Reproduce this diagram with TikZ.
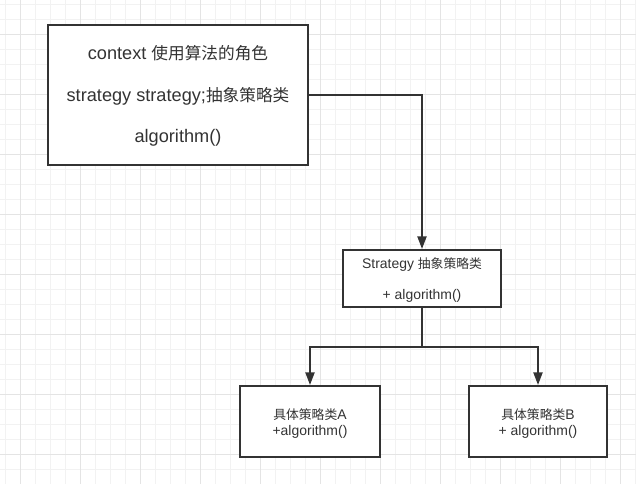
\documentclass[tikz,border=0pt]{standalone}
\usepackage{fontspec}
\setmainfont{Noto Sans CJK SC}
\newfontfamily\lat[Scale=1.09]{Liberation Sans}
\newcommand{\latx}[1]{{\lat #1}}
\usetikzlibrary{arrows.meta}
\definecolor{ink}{HTML}{333333}
\definecolor{gminor}{HTML}{F2F2F2}
\definecolor{gmajor}{HTML}{E4E4E4}
\tikzset{
  box/.style={draw=ink, line width=1.5pt, fill=white, inner sep=0pt},
  txtbig/.style={text=ink, font=\fontsize{12.5}{14}\selectfont, anchor=base, inner sep=0pt},
  txtsmall/.style={text=ink, font=\fontsize{9.6}{11}\selectfont, anchor=base, inner sep=0pt},
  conn/.style={draw=ink, line width=1.5pt},
  arr/.style={conn, -{Triangle[width=6.8pt,length=9.5pt]}},
  gridminor/.style={draw=gminor, line width=0.75pt},
  gridmajor/.style={draw=gmajor, line width=0.75pt}
}
\begin{document}
\begin{tikzpicture}[x=0.75pt,y=-0.75pt]
\useasboundingbox (0,0) rectangle (636,484);
\fill[white] (0,0) rectangle (636,484);
% grid
\foreach \i in {0,...,42} {\draw[gridminor] ({5.7+15*\i},0) -- ({5.7+15*\i},484);}
\foreach \j in {0,...,32} {\draw[gridminor] (0,{5+15*\j}) -- (636,{5+15*\j});}
\foreach \i in {0,...,10} {\draw[gridmajor] ({20.7+60*\i},0) -- ({20.7+60*\i},484);}
\foreach \j in {0,...,7} {\draw[gridmajor] (0,{35+60*\j}) -- (636,{35+60*\j});}
% boxes
\node[box, minimum width=260*0.75pt, minimum height=140*0.75pt] (ctx) at (178,95) {};
\node[box, minimum width=158*0.75pt, minimum height=57*0.75pt] (str) at (422,278.5) {};
\node[box, minimum width=140*0.75pt, minimum height=71*0.75pt] (ca) at (310,421.5) {};
\node[box, minimum width=138*0.75pt, minimum height=71*0.75pt] (cb) at (538,421.5) {};
% texts
\node[txtbig] (t1) at (178,59.5) {\latx{context }使用算法的角色};
\node[txtbig] (t2) at (178,101.5) {\latx{strategy strategy;}抽象策略类};
\node[txtbig] (t3) at (178,143) {\latx{algorithm()}};
\node[txtsmall] (t4) at (422,268.5) {\latx{Strategy }抽象策略类};
\node[txtsmall] (t5) at (422,300) {\latx{+ algorithm()}};
\node[txtsmall] (t6) at (310,420) {具体策略类\latx{A}};
\node[txtsmall] (t7) at (310,436) {\latx{+algorithm()}};
\node[txtsmall] (t8) at (538,420) {具体策略类\latx{B}};
\node[txtsmall] (t9) at (538,436) {\latx{+ algorithm()}};
% connectors
\coordinate (j) at (422,347);
\draw[arr] (ctx.east) -| (str.north);
\draw[conn] (str.south) -- (j);
\draw[arr] (j) -| (ca.north);
\draw[arr] (j) -| (cb.north);
\end{tikzpicture}
\end{document}
